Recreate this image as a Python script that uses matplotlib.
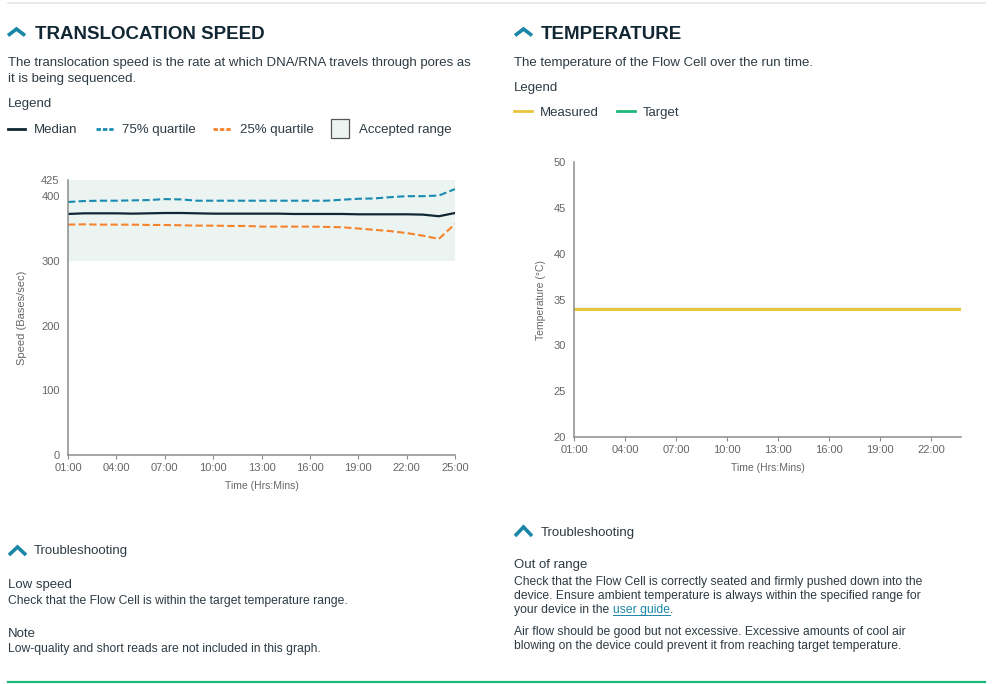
import matplotlib
matplotlib.use("Agg")
import matplotlib.pyplot as plt
from matplotlib.lines import Line2D
from matplotlib.patches import Rectangle

plt.rcParams["font.family"] = ["Liberation Sans", "DejaVu Sans"]

# translocation speed, hourly points (hours since start)
speed_hours = list(range(1, 26))
median = [372.5, 373.5, 373.5, 373.5, 373, 373.5, 374, 374, 373.5, 373, 373, 373, 373, 373,
          372.5, 372.5, 372.5, 372.5, 372, 372, 372, 372, 371.5, 369, 374]
q75 = [391, 392.5, 393, 393, 393.5, 394, 395.5, 395, 393, 393, 393, 393, 393, 393,
       393, 393, 393, 394.5, 396, 396.5, 398.5, 400, 400, 401, 411]
q25 = [356, 356.5, 356, 356, 356, 355.5, 355.5, 355, 354.5, 354.5, 354, 354, 353, 353,
       353, 353, 352.5, 352, 350, 348, 346, 343, 339, 334, 357]
accepted_range = (300, 425)
speed_ticks = [0, 100, 200, 300, 400, 425]

# temperature
temp_hours = list(range(1, 24)) + [23.77]
measured = [34.0] * len(temp_hours)
target = [34.0] * len(temp_hours)
temp_ticks = [20, 25, 30, 35, 40, 45, 50]

time_ticks_speed = [1, 4, 7, 10, 13, 16, 19, 22, 25]
time_ticks_temp = [1, 4, 7, 10, 13, 16, 19, 22]

DARK = "#112733"
TEXT = "#2e3b43"
GREY = "#666666"
TEAL = "#1a86a8"
BLUE = "#1a8ab0"
ORANGE = "#f5832c"
YELLOW = "#e9c53c"
GREEN = "#1db87a"
SHADE = "#ecf4f1"

W, H = 1000, 684
fig = plt.figure(figsize=(10, 6.84), dpi=100)


def fx(x):
    return x / W


def fy(y):
    return 1 - y / H


def text(x, y, s, **kw):
    kw.setdefault("color", TEXT)
    kw.setdefault("fontsize", 9.5)
    return fig.text(fx(x), fy(y), s, va="baseline", ha="left", **kw)


def hline(x0, x1, y, **kw):
    fig.add_artist(Line2D([fx(x0), fx(x1)], [fy(y), fy(y)], **kw))


def chevron(x0, x1, ytop, ybot, lw=2.6):
    xm = (x0 + x1) / 2
    fig.add_artist(Line2D([fx(x0), fx(xm), fx(x1)], [fy(ybot), fy(ytop), fy(ybot)],
                          color=TEAL, lw=lw, solid_capstyle="butt", solid_joinstyle="miter"))


def hhmm(h):
    return "%02d:00" % h


# separators
hline(8, 985, 3, color="#e6e6e6", lw=1.2)
hline(8, 985, 682, color=GREEN, lw=1.6)

# ---------- left panel text ----------
chevron(8, 25, 29, 35.5)
text(35, 39, "TRANSLOCATION SPEED", fontsize=13.5, fontweight="bold", color=DARK)
text(8, 66, "The translocation speed is the rate at which DNA/RNA travels through pores as")
text(8, 82, "it is being sequenced.")
text(8, 107, "Legend")

hline(8, 25, 129, color=DARK, lw=2)
text(34, 133, "Median")
hline(96, 113, 129, color=BLUE, lw=2, ls=(0, (1.6, 0.7)))
text(122, 133, "75% quartile")
hline(213, 231, 129, color=ORANGE, lw=2, ls=(0, (1.6, 0.7)))
text(240, 133, "25% quartile")
fig.add_artist(Rectangle((fx(331), fy(138)), fx(18), 19 / H, facecolor=SHADE,
                         edgecolor="#555555", lw=0.9))
text(359, 133, "Accepted range")

chevron(9, 26, 547, 555)
text(34, 554, "Troubleshooting")
text(8, 588, "Low speed")
text(8, 604, "Check that the Flow Cell is within the target temperature range.", fontsize=8.7)
text(8, 637, "Note")
text(8, 652, "Low-quality and short reads are not included in this graph.", fontsize=8.7)

# ---------- right panel text ----------
chevron(515, 532, 29, 35.5)
text(541, 39, "TEMPERATURE", fontsize=13.5, fontweight="bold", color=DARK)
text(514, 66, "The temperature of the Flow Cell over the run time.", fontsize=9.5)
text(514, 91, "Legend")
hline(514, 532, 111, color=YELLOW, lw=2)
text(540, 116, "Measured")
hline(617, 635, 111, color=GREEN, lw=2)
text(643, 116, "Target")

chevron(515, 532, 527, 536)
text(541, 536, "Troubleshooting")
text(514, 568, "Out of range")
text(514, 585, "Check that the Flow Cell is correctly seated and firmly pushed down into the", fontsize=8.7)
text(514, 599, "device. Ensure ambient temperature is always within the specified range for", fontsize=8.7)
t1 = text(514, 613, "your device in the ", fontsize=8.7)
fig.canvas.draw()
r = fig.canvas.get_renderer()
bb = t1.get_window_extent(r)
t2 = fig.text(bb.x1 / W, fy(613), "user guide", fontsize=8.7, color=TEAL, va="baseline")
bb2 = t2.get_window_extent(r)
fig.text(bb2.x1 / W, fy(613), ".", fontsize=8.7, color=TEXT, va="baseline")
hline(bb2.x0, bb2.x1, 615, color=TEAL, lw=0.7)
text(514, 635, "Air flow should be good but not excessive. Excessive amounts of cool air", fontsize=8.7)
text(514, 649, "blowing on the device could prevent it from reaching target temperature.", fontsize=8.7)


def style_axes(ax):
    for s in ("top", "right"):
        ax.spines[s].set_visible(False)
    for s in ("left", "bottom"):
        ax.spines[s].set_color("#8c8c8c")
        ax.spines[s].set_linewidth(1.1)
    ax.tick_params(axis="y", length=0, pad=6, labelsize=8, labelcolor=GREY)
    ax.tick_params(axis="x", length=3, width=0.8, color="#8c8c8c", pad=2.5,
                   labelsize=8, labelcolor=GREY)


# ---------- speed chart ----------
ax1 = fig.add_axes([fx(68), fy(455), (455 - 68) / W, (455 - 180) / H])
ax1.axhspan(accepted_range[0], accepted_range[1], color=SHADE, lw=0, zorder=0)
ax1.plot(speed_hours, q75, color=BLUE, lw=1.5, ls=(0, (3.5, 1.6)))
ax1.plot(speed_hours, q25, color=ORANGE, lw=1.5, ls=(0, (3.5, 1.6)))
ax1.plot(speed_hours, median, color=DARK, lw=1.6)
ax1.set_xlim(1, 25)
ax1.set_ylim(0, 425)
ax1.set_yticks(speed_ticks)
ax1.set_xticks(time_ticks_speed)
ax1.set_xticklabels([hhmm(h) for h in time_ticks_speed])
style_axes(ax1)
ax1.set_xlabel("Time (Hrs:Mins)", fontsize=7.5, color=GREY, labelpad=6)
ax1.set_ylabel("Speed (Bases/sec)", fontsize=8, color=GREY, labelpad=10)

# ---------- temperature chart ----------
ax2 = fig.add_axes([fx(574), fy(437), (961 - 574) / W, (437 - 162) / H])
ax2.plot(temp_hours, target, color=GREEN, lw=1.6)
ax2.plot(temp_hours, measured, color=YELLOW, lw=2.2)
ax2.set_xlim(1, 23.77)
ax2.set_ylim(20, 50)
ax2.set_yticks(temp_ticks)
ax2.set_xticks(time_ticks_temp)
ax2.set_xticklabels([hhmm(h) for h in time_ticks_temp])
style_axes(ax2)
ax2.set_xlabel("Time (Hrs:Mins)", fontsize=7.5, color=GREY, labelpad=6)
ax2.set_ylabel("Temperature (\u00b0C)", fontsize=7.5, color=GREY, labelpad=5)

fig.savefig("out.png", dpi=100)
